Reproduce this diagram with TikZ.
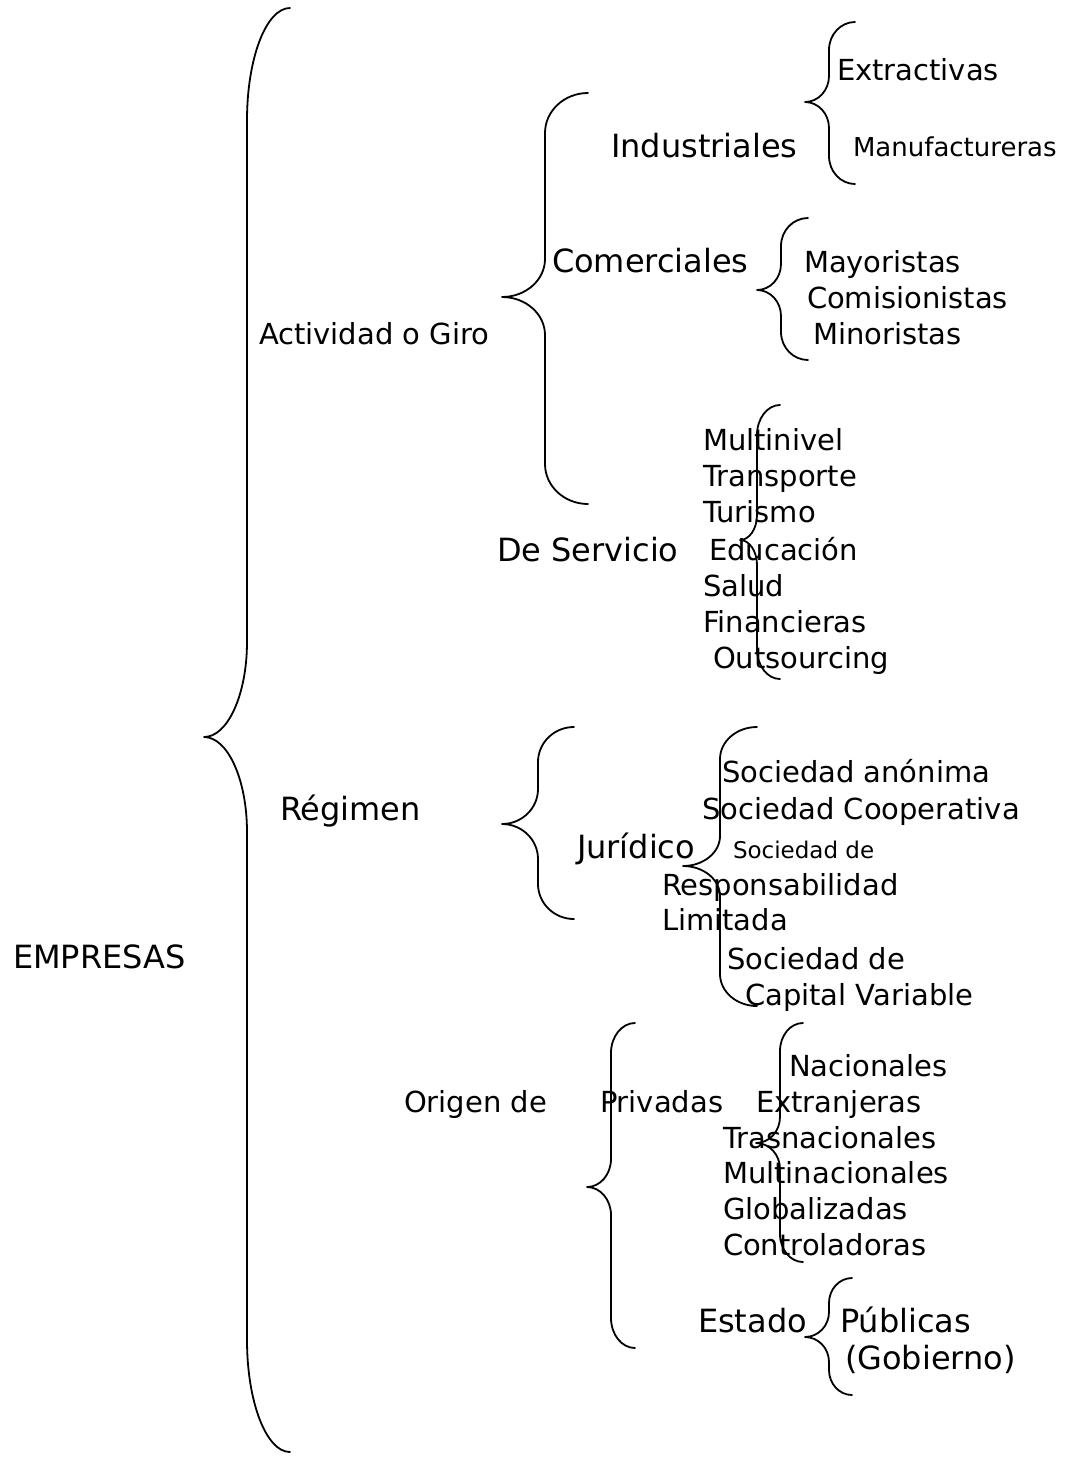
\documentclass[tikz,border=0pt]{standalone}
\usepackage{fontspec}
\setmainfont{DejaVu Sans}

% Curly brace opening to the right:
% #1 x of the vertical stroke, #2 x of the two ends, #3 x of the tip,
% #4 top y, #5 tip y, #6 bottom y, #7 radius of end bends, #8 radius of tip bends
\newcommand\drawbrace[8]{%
  \draw[bracestroke]
    (#2,#4) .. controls ({#1+0.448*(#2-#1)},#4) and (#1,{#4+0.448*#7}) .. (#1,{#4+#7})
    -- (#1,{#5-#8}) .. controls (#1,{#5-0.448*#8}) and ({#3+0.552*(#1-#3)},#5) .. (#3,#5)
    .. controls ({#3+0.552*(#1-#3)},#5) and (#1,{#5+0.448*#8}) .. (#1,{#5+#8})
    -- (#1,{#6-#7}) .. controls (#1,{#6-0.448*#7}) and ({#1+0.448*(#2-#1)},#6) .. (#2,#6);%
}

\tikzset{
  every node/.style={inner sep=0pt, outer sep=0pt, anchor=base west},
  txt/.style={font=\fontsize{14.5}{17}\selectfont},
  bigtxt/.style={font=\fontsize{16}{19}\selectfont},
  midtxt/.style={font=\fontsize{13}{16}\selectfont},
  smtxt/.style={font=\fontsize{11.5}{14}\selectfont},
  bracestroke/.style={line width=0.9pt, line cap=round, line join=round}
}

\begin{document}
\begin{tikzpicture}[x=0.5pt, y=-0.5pt]
\useasboundingbox (0,0) rectangle (1067,1458);

% ---------- braces ----------
\drawbrace{247}{290}{204}{8}{737}{1452}{112}{95}      % EMPRESAS
\drawbrace{545}{588}{502}{93}{297}{504}{40}{38}       % Actividad o Giro
\drawbrace{829}{855}{805}{22}{102}{184}{28}{26}       % Industriales
\drawbrace{781}{808}{757}{218}{290}{360}{28}{26}      % Comerciales
\drawbrace{757}{780}{740}{405}{540}{679}{30}{25}      % De Servicio
\drawbrace{538}{574}{502}{727}{824}{919}{35}{35}      % Régimen
\drawbrace{720}{757}{683}{727}{866}{1006}{32}{30}     % Jurídico
\drawbrace{611}{635}{587}{1023}{1187}{1348}{30}{28}   % Origen de
\drawbrace{780}{803}{756}{1023}{1143}{1262}{28}{26}   % Privadas
\drawbrace{829}{852}{805}{1278}{1337}{1395}{25}{25}   % Estado

% ---------- labels ----------
\node[bigtxt] (empresas) at (13,968) {EMPRESAS};

\node[txt] (actividad) at (259,344) {Actividad o Giro};
\node[bigtxt] (industriales) at (611,157) {Industriales};
\node[txt] (extractivas) at (837,80) {Extractivas};
\node[midtxt] (manufactureras) at (853,156) {Manufactureras};
\node[bigtxt] (comerciales) at (552,272) {Comerciales};
\node[txt] (mayoristas) at (804,272) {Mayoristas};
\node[txt] (comisionistas) at (807,308) {Comisionistas};
\node[txt] (minoristas) at (813,344) {Minoristas};
\node[bigtxt] (servicio) at (497,561) {De Servicio};
\node[txt] (multinivel) at (703,450) {Multinivel};
\node[txt] (transporte) at (703,486) {Transporte};
\node[txt] (turismo) at (703,522) {Turismo};
\node[txt] (educacion) at (709,560) {Educación};
\node[txt] (salud) at (703,596) {Salud};
\node[txt] (financieras) at (703,632) {Financieras};
\node[txt] (outsourcing) at (713,668) {Outsourcing};

\node[bigtxt] (regimen) at (280,820) {Régimen};
\node[bigtxt] (juridico) at (577,858) {Jurídico};
\node[txt] (anonima) at (722,782) {Sociedad anónima};
\node[txt] (cooperativa) at (702,819) {Sociedad Cooperativa};
\node[smtxt] (srl1) at (733,858) {Sociedad de};
\node[txt] (srl2) at (662,895) {Responsabilidad};
\node[txt] (srl3) at (662,930) {Limitada};
\node[txt] (scv1) at (727,969) {Sociedad de};
\node[txt] (scv2) at (745,1005) {Capital Variable};

\node[txt] (origen) at (404,1112) {Origen de};
\node[txt] (privadas) at (600,1112) {Privadas};
\node[txt] (nacionales) at (789,1076) {Nacionales};
\node[txt] (extranjeras) at (756,1112) {Extranjeras};
\node[txt] (trasnacionales) at (723,1148) {Trasnacionales};
\node[txt] (multinacionales) at (723,1183) {Multinacionales};
\node[txt] (globalizadas) at (723,1219) {Globalizadas};
\node[txt] (controladoras) at (723,1255) {Controladoras};
\node[bigtxt] (estado) at (698,1332) {Estado};
\node[bigtxt] (publicas) at (840,1332) {Públicas};
\node[bigtxt] (gobierno) at (845,1369) {(Gobierno)};
\end{tikzpicture}
\end{document}
